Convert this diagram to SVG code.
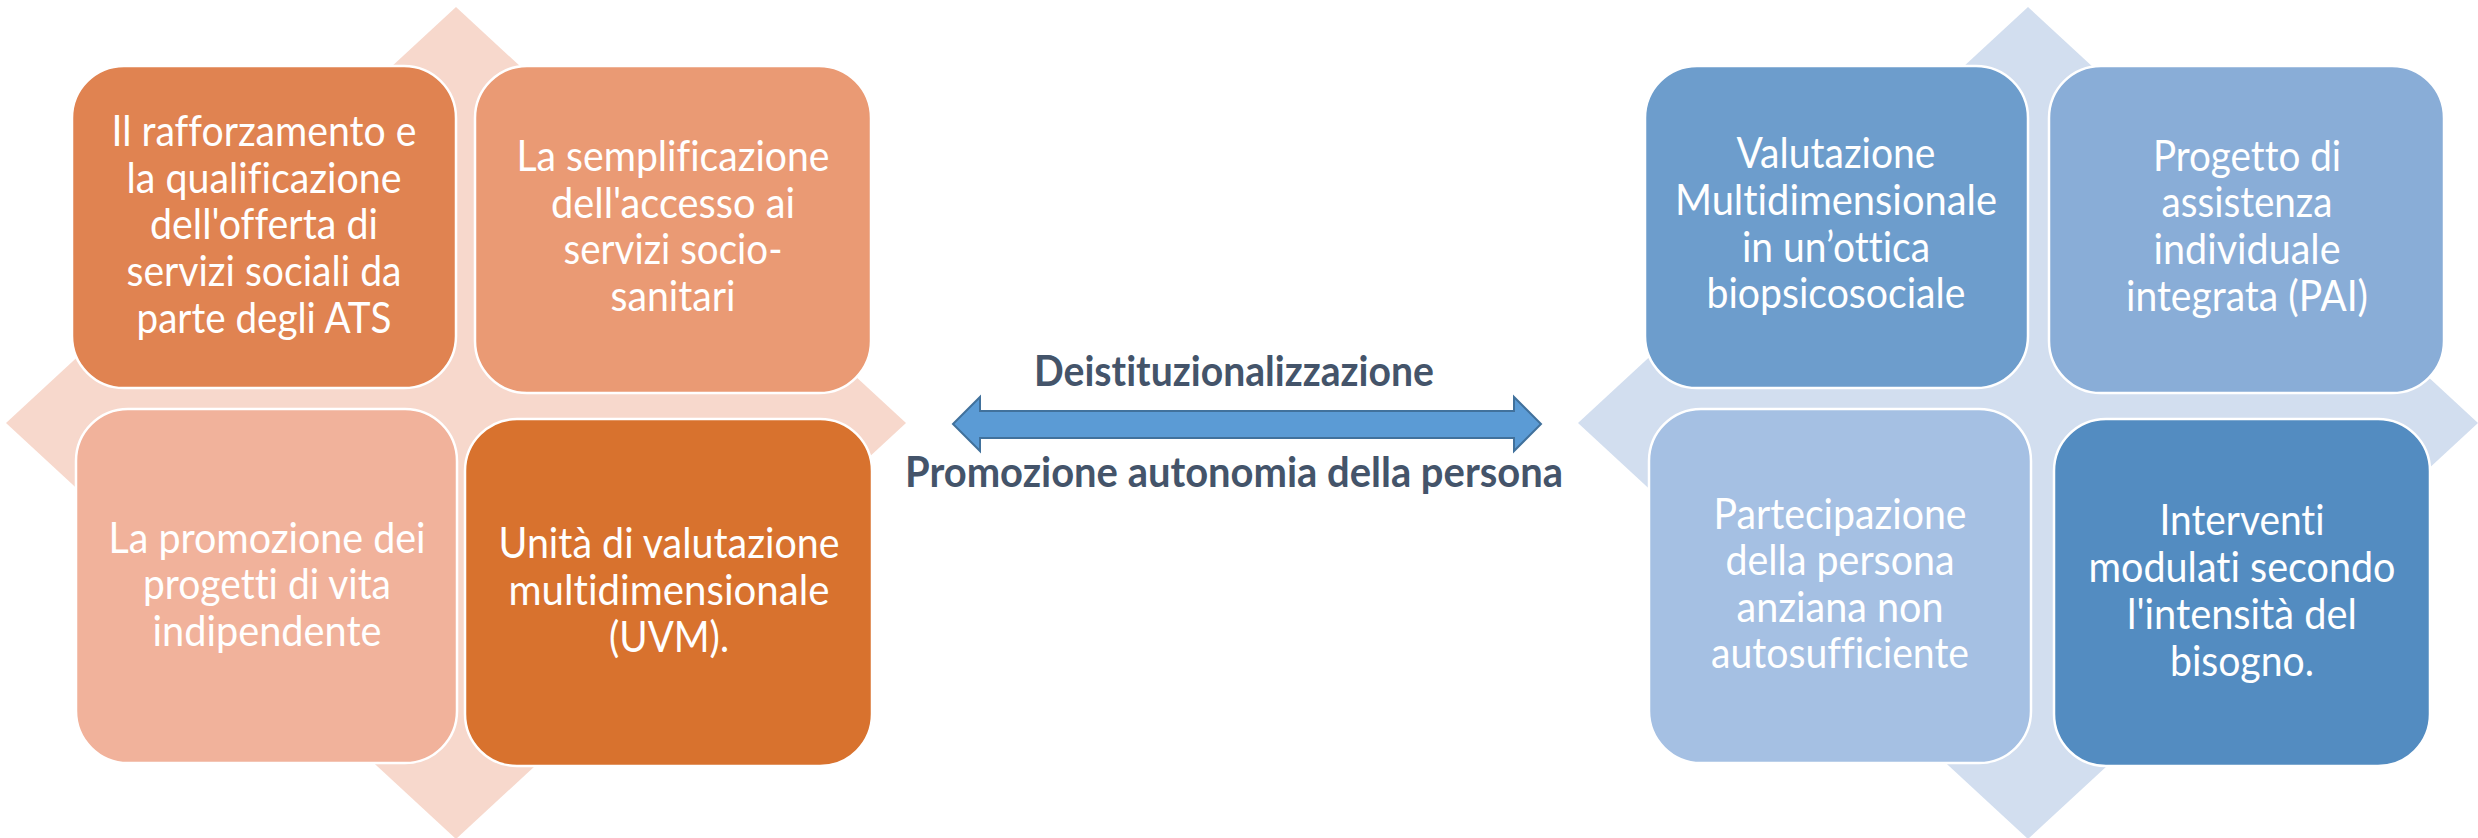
<svg xmlns="http://www.w3.org/2000/svg" width="2478" height="838" viewBox="0 0 2478 838">
<style>
.box{stroke:#FFFFFF;stroke-width:2.5}
.t{font-family:Lato,"Open Sans","Liberation Sans",sans-serif;font-size:42px;fill:#FFFFFF;text-anchor:middle;font-variant-ligatures:none}
.lbl{font-family:Lato,"Open Sans","Liberation Sans",sans-serif;font-size:42px;font-weight:bold;fill:#44546A;text-anchor:middle;font-variant-ligatures:none}
</style>
<rect width="2478" height="838" fill="#FFFFFF"/>
<g id="left-matrix">
  <polygon id="left-diamond" points="456,7 906,423 456,839 6,423" fill="#F7D8CC"/>
  <g id="node-rafforzamento">
    <rect class="box" x="72" y="66" width="384" height="322" rx="52" fill="#E08351"/>
    <text class="t" x="264" y="146" textLength="305" lengthAdjust="spacingAndGlyphs">Il rafforzamento e</text>
    <text class="t" x="264" y="193" textLength="275" lengthAdjust="spacingAndGlyphs">la qualificazione</text>
    <text class="t" x="264" y="239" textLength="228" lengthAdjust="spacingAndGlyphs">dell'offerta di</text>
    <text class="t" x="264" y="286" textLength="275" lengthAdjust="spacingAndGlyphs">servizi sociali da</text>
    <text class="t" x="264" y="333" textLength="255" lengthAdjust="spacingAndGlyphs">parte degli ATS</text>
  </g>
  <g id="node-semplificazione">
    <rect class="box" x="475" y="66" width="396" height="327" rx="52" fill="#EA9A74"/>
    <text class="t" x="673" y="171" textLength="313" lengthAdjust="spacingAndGlyphs">La semplificazione</text>
    <text class="t" x="673" y="218" textLength="244" lengthAdjust="spacingAndGlyphs">dell'accesso ai</text>
    <text class="t" x="673" y="264" textLength="219" lengthAdjust="spacingAndGlyphs">servizi socio-</text>
    <text class="t" x="673" y="311" textLength="125" lengthAdjust="spacingAndGlyphs">sanitari</text>
  </g>
  <g id="node-promozione">
    <rect class="box" x="76" y="409" width="381" height="354" rx="52" fill="#F1B29B"/>
    <text class="t" x="267" y="553" textLength="317" lengthAdjust="spacingAndGlyphs">La promozione dei</text>
    <text class="t" x="267" y="599" textLength="248" lengthAdjust="spacingAndGlyphs">progetti di vita</text>
    <text class="t" x="267" y="646" textLength="229" lengthAdjust="spacingAndGlyphs">indipendente</text>
  </g>
  <g id="node-uvm">
    <rect class="box" x="465" y="419" width="407" height="347" rx="52" fill="#D8722E"/>
    <text class="t" x="669" y="558" textLength="341" lengthAdjust="spacingAndGlyphs">Unità di valutazione</text>
    <text class="t" x="669" y="605" textLength="321" lengthAdjust="spacingAndGlyphs">multidimensionale</text>
    <text class="t" x="669" y="652" textLength="120" lengthAdjust="spacingAndGlyphs">(UVM).</text>
  </g>
</g>
<g id="right-matrix">
  <polygon id="right-diamond" points="2028,7 2478,423 2028,839 1578,423" fill="#D2DEEF"/>
  <g id="node-valutazione">
    <rect class="box" x="1645" y="66" width="383" height="322" rx="52" fill="#6D9DCC"/>
    <text class="t" x="1836" y="168" textLength="199" lengthAdjust="spacingAndGlyphs">Valutazione</text>
    <text class="t" x="1836" y="215" textLength="322" lengthAdjust="spacingAndGlyphs">Multidimensionale</text>
    <text class="t" x="1836" y="262" textLength="188" lengthAdjust="spacingAndGlyphs">in un’ottica</text>
    <text class="t" x="1836" y="308" textLength="259" lengthAdjust="spacingAndGlyphs">biopsicosociale</text>
  </g>
  <g id="node-pai">
    <rect class="box" x="2049" y="66" width="395" height="327" rx="52" fill="#89ADD7"/>
    <text class="t" x="2247" y="171" textLength="188" lengthAdjust="spacingAndGlyphs">Progetto di</text>
    <text class="t" x="2247" y="217" textLength="171" lengthAdjust="spacingAndGlyphs">assistenza</text>
    <text class="t" x="2247" y="264" textLength="187" lengthAdjust="spacingAndGlyphs">individuale</text>
    <text class="t" x="2247" y="311" textLength="242" lengthAdjust="spacingAndGlyphs">integrata (PAI)</text>
  </g>
  <g id="node-partecipazione">
    <rect class="box" x="1649" y="409" width="382" height="354" rx="52" fill="#A5C0E3"/>
    <text class="t" x="1840" y="529" textLength="253" lengthAdjust="spacingAndGlyphs">Partecipazione</text>
    <text class="t" x="1840" y="575" textLength="229" lengthAdjust="spacingAndGlyphs">della persona</text>
    <text class="t" x="1840" y="622" textLength="207" lengthAdjust="spacingAndGlyphs">anziana non</text>
    <text class="t" x="1840" y="668" textLength="258" lengthAdjust="spacingAndGlyphs">autosufficiente</text>
  </g>
  <g id="node-interventi">
    <rect class="box" x="2054" y="419" width="376" height="347" rx="52" fill="#538CC1"/>
    <text class="t" x="2242" y="535" textLength="165" lengthAdjust="spacingAndGlyphs">Interventi</text>
    <text class="t" x="2242" y="582" textLength="307" lengthAdjust="spacingAndGlyphs">modulati secondo</text>
    <text class="t" x="2242" y="629" textLength="230" lengthAdjust="spacingAndGlyphs">l'intensità del</text>
    <text class="t" x="2242" y="676" textLength="144" lengthAdjust="spacingAndGlyphs">bisogno.</text>
  </g>
</g>
<g id="connectors">
  <polygon id="double-arrow" points="953,424 980,397 980,411 1514,411 1514,397 1541,424 1514,451 1514,438 980,438 980,451" fill="#5B9BD5" stroke="#41719C" stroke-width="2" stroke-linejoin="miter"/>
  <text class="lbl" x="1234" y="386" textLength="400" lengthAdjust="spacingAndGlyphs">Deistituzionalizzazione</text>
  <text class="lbl" x="1234" y="487" textLength="658" lengthAdjust="spacingAndGlyphs">Promozione autonomia della persona</text>
</g>
</svg>
